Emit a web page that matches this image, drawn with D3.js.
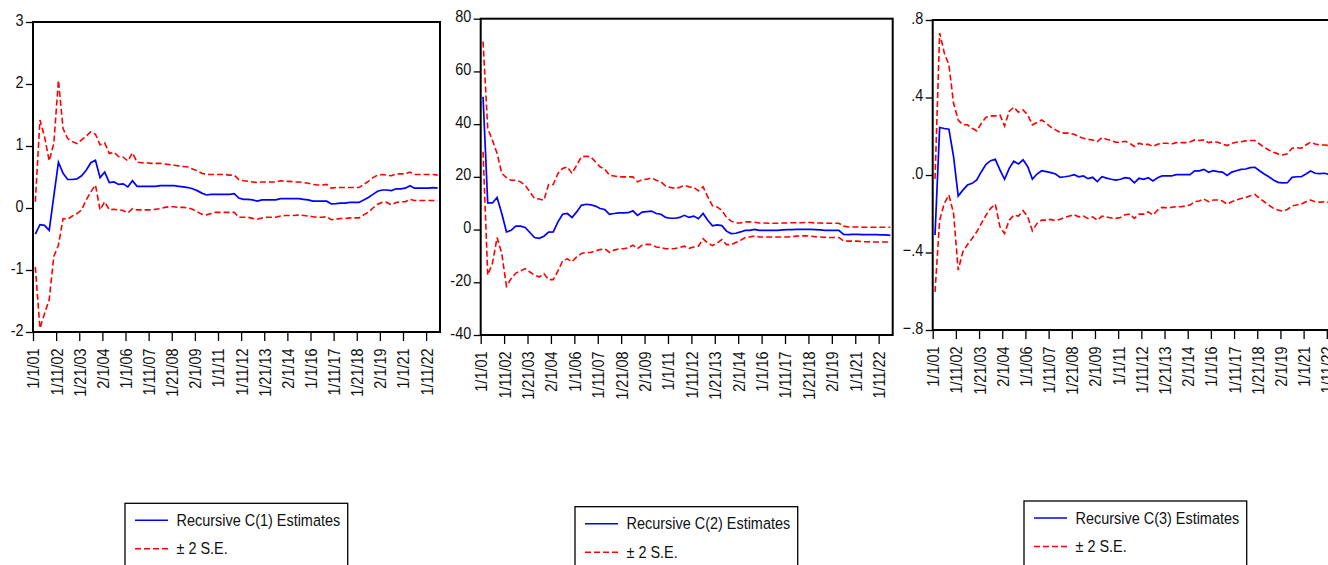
<!DOCTYPE html>
<html>
<head>
<meta charset="utf-8">
<script src="https://cdn.jsdelivr.net/npm/d3@7"></script>
<style>
  body { margin: 0; background: #fff; overflow: hidden; }
  svg { display: block; font-family: "Liberation Sans", Arial, sans-serif; }
</style>
</head>
<body>
<script>
var W = 1328, H = 565;

// tick labels on the date axis, one every 5 observations
var xLabels = ["1/1/01", "1/11/02", "1/21/03", "2/1/04", "1/1/06", "1/11/07", "1/21/08", "2/1/09", "1/1/11",
  "1/11/12", "1/21/13", "2/1/14", "1/1/16", "1/11/17", "1/21/18", "2/1/19", "1/1/21", "1/11/22"];
var nObs = 88;

var yTicks1 = [-2, -1, 0, 1, 2, 3];
var yTicks2 = [-40, -20, 0, 20, 40, 60, 80];
var yTicks3 = [-0.8, -0.4, 0, 0.4, 0.8];

// C(1)
var est1 = [-0.42, -0.27, -0.28, -0.36, 0.19, 0.74, 0.56, 0.46, 0.46, 0.47,
  0.52, 0.61, 0.73, 0.77, 0.49, 0.58, 0.41, 0.42, 0.38, 0.39,
  0.34, 0.44, 0.35, 0.35, 0.35, 0.35, 0.35, 0.36, 0.36, 0.36,
  0.36, 0.35, 0.34, 0.33, 0.31, 0.28, 0.24, 0.21, 0.22, 0.22,
  0.22, 0.22, 0.22, 0.23, 0.16, 0.14, 0.14, 0.13, 0.11, 0.13,
  0.13, 0.13, 0.13, 0.15, 0.15, 0.15, 0.15, 0.15, 0.14, 0.13,
  0.11, 0.11, 0.11, 0.11, 0.065, 0.07, 0.08, 0.08, 0.09, 0.09,
  0.09, 0.13, 0.17, 0.22, 0.27, 0.29, 0.29, 0.28, 0.31, 0.31,
  0.32, 0.36, 0.32, 0.32, 0.32, 0.32, 0.33, 0.32];
var up1 = [0.10, 1.42, 1.15, 0.76, 1.04, 2.06, 1.28, 1.12, 1.07, 1.04,
  1.10, 1.16, 1.23, 1.19, 1.02, 1.05, 0.88, 0.90, 0.83, 0.82,
  0.76, 0.89, 0.74, 0.73, 0.73, 0.72, 0.72, 0.72, 0.71, 0.70,
  0.69, 0.68, 0.67, 0.66, 0.63, 0.60, 0.56, 0.54, 0.54, 0.54,
  0.54, 0.54, 0.53, 0.53, 0.46, 0.44, 0.43, 0.42, 0.41, 0.42,
  0.42, 0.42, 0.42, 0.44, 0.43, 0.43, 0.42, 0.42, 0.41, 0.40,
  0.38, 0.37, 0.37, 0.38, 0.32, 0.33, 0.33, 0.33, 0.33, 0.33,
  0.33, 0.38, 0.43, 0.49, 0.53, 0.54, 0.53, 0.52, 0.55, 0.55,
  0.55, 0.58, 0.54, 0.54, 0.54, 0.54, 0.54, 0.53];
var lo1 = [-0.95, -1.94, -1.70, -1.48, -0.78, -0.60, -0.17, -0.18, -0.13, -0.09,
  -0.03, 0.13, 0.26, 0.37, -0.03, 0.10, -0.03, -0.02, -0.03, -0.04,
  -0.08, -0.01, -0.03, -0.03, -0.03, -0.03, -0.02, -0.01, 0.01, 0.02,
  0.02, 0.01, 0.01, 0.00, -0.02, -0.06, -0.10, -0.11, -0.09, -0.07,
  -0.07, -0.07, -0.07, -0.07, -0.15, -0.15, -0.15, -0.167, -0.18, -0.16,
  -0.15, -0.15, -0.15, -0.13, -0.12, -0.12, -0.12, -0.11, -0.12, -0.13,
  -0.14, -0.15, -0.15, -0.14, -0.19, -0.18, -0.17, -0.17, -0.16, -0.16,
  -0.16, -0.11, -0.07, 0.00, 0.06, 0.09, 0.09, 0.05, 0.09, 0.10,
  0.10, 0.14, 0.12, 0.12, 0.12, 0.12, 0.12, 0.12];

// C(2)
var est2 = [50.4, 10.1, 10.1, 12.2, 6.1, -0.9, -0.3, 1.3, 1.3, 0.8,
  -1.1, -3.0, -3.3, -2.5, -1.0, -0.9, 2.9, 5.8, 6.1, 4.6,
  6.7, 9.2, 9.6, 9.4, 8.9, 8.0, 7.6, 5.8, 6.1, 6.3,
  6.3, 6.4, 7.1, 5.4, 6.6, 6.8, 7.0, 6.1, 5.8, 4.6,
  4.3, 4.3, 4.6, 5.4, 4.6, 5.1, 4.1, 6.1, 3.5, 1.4,
  1.8, 1.5, -0.6, -1.5, -1.4, -0.9, -0.3, -0.3, 0.1, -0.3,
  -0.3, -0.3, -0.3, -0.3, -0.1, 0.0, 0.0, 0.1, 0.1, 0.1,
  0.1, 0.0, -0.1, -0.3, -0.3, -0.3, -0.3, -1.8, -1.9, -1.8,
  -1.8, -1.9, -1.9, -1.9, -1.9, -2.0, -2.0, -2.2];
var up2 = [71.3, 38.4, 33.9, 28.9, 21.3, 19.7, 18.7, 18.7, 18.1, 16.8,
  14.3, 11.8, 11.6, 11.1, 17.1, 17.1, 21.3, 23.2, 23.8, 21.3,
  24.4, 27.6, 27.8, 27.6, 25.7, 23.8, 22.9, 20.6, 20.3, 20.0,
  20.0, 20.0, 20.0, 18.1, 19.0, 19.1, 19.6, 18.7, 18.1, 16.5,
  16.0, 15.6, 16.0, 16.8, 16.2, 16.0, 14.7, 16.2, 12.4, 9.0,
  8.6, 7.3, 4.6, 3.2, 2.5, 2.5, 2.9, 2.9, 2.8, 2.5,
  2.5, 2.4, 2.4, 2.4, 2.5, 2.5, 2.6, 2.6, 2.6, 2.7,
  2.7, 2.5, 2.5, 2.4, 2.4, 2.4, 2.4, 1.3, 1.0, 1.0,
  1.0, 0.9, 0.9, 0.9, 0.9, 0.9, 0.9, 0.9];
var lo2 = [29.5, -17.3, -12.9, -3.0, -9.1, -21.5, -18.6, -16.5, -15.7, -14.8,
  -16.1, -17.3, -18.0, -16.7, -19.0, -19.0, -15.7, -11.9, -11.1, -12.2,
  -10.4, -9.1, -8.7, -8.7, -8.1, -7.6, -7.3, -8.6, -7.8, -7.3,
  -7.3, -6.9, -5.9, -7.2, -5.9, -5.6, -5.7, -6.6, -6.8, -7.3,
  -7.3, -7.2, -6.8, -6.3, -7.1, -6.6, -6.3, -3.5, -5.1, -6.1,
  -5.1, -3.8, -5.7, -5.7, -4.9, -4.1, -3.0, -2.8, -2.4, -2.8,
  -2.8, -2.8, -2.8, -2.8, -2.8, -2.8, -2.7, -2.5, -2.4, -2.4,
  -2.5, -2.7, -2.8, -2.9, -3.0, -3.0, -3.0, -4.3, -4.4, -4.4,
  -4.4, -4.6, -4.6, -4.7, -4.7, -4.7, -4.7, -4.7];

// C(3)
var est3 = [-0.31, 0.245, 0.24, 0.236, 0.095, -0.109, -0.078, -0.052, -0.043, -0.026,
  0.017, 0.055, 0.074, 0.081, 0.026, -0.022, 0.034, 0.071, 0.057, 0.078,
  0.043, -0.021, 0.005, 0.022, 0.017, 0.012, 0.005, -0.012, -0.009, -0.005,
  0.002, -0.009, -0.005, -0.019, -0.012, -0.034, -0.009, -0.016, -0.022, -0.026,
  -0.022, -0.014, -0.017, -0.04, -0.017, -0.022, -0.014, -0.031, -0.014, -0.005,
  -0.005, -0.005, 0.002, 0.002, 0.002, 0.002, 0.021, 0.021, 0.029, 0.014,
  0.022, 0.017, 0.015, -0.002, 0.015, 0.022, 0.029, 0.031, 0.038, 0.04,
  0.022, 0.005, -0.009, -0.026, -0.038, -0.041, -0.04, -0.012, -0.009, -0.009,
  0.005, 0.021, 0.009, 0.007, 0.009, 0.003, 0.002, 0.003];
var up3 = [-0.02, 0.733, 0.63, 0.569, 0.37, 0.284, 0.259, 0.259, 0.241, 0.228,
  0.267, 0.298, 0.305, 0.305, 0.31, 0.253, 0.328, 0.35, 0.324, 0.336,
  0.31, 0.259, 0.271, 0.284, 0.267, 0.247, 0.233, 0.219, 0.216, 0.216,
  0.21, 0.198, 0.19, 0.184, 0.181, 0.172, 0.193, 0.184, 0.178, 0.169,
  0.169, 0.174, 0.164, 0.147, 0.164, 0.157, 0.159, 0.147, 0.159, 0.164,
  0.164, 0.16, 0.167, 0.167, 0.167, 0.171, 0.181, 0.178, 0.181, 0.167,
  0.172, 0.169, 0.16, 0.152, 0.164, 0.169, 0.172, 0.176, 0.178, 0.178,
  0.16, 0.143, 0.129, 0.117, 0.109, 0.103, 0.109, 0.138, 0.141, 0.138,
  0.155, 0.169, 0.16, 0.155, 0.155, 0.152, 0.152, 0.152];
var lo3 = [-0.603, -0.233, -0.147, -0.103, -0.198, -0.491, -0.397, -0.359, -0.328, -0.293,
  -0.25, -0.207, -0.172, -0.15, -0.267, -0.302, -0.233, -0.207, -0.212, -0.184,
  -0.216, -0.288, -0.25, -0.233, -0.233, -0.229, -0.236, -0.228, -0.219, -0.212,
  -0.205, -0.216, -0.212, -0.224, -0.216, -0.233, -0.212, -0.217, -0.222, -0.224,
  -0.219, -0.205, -0.202, -0.224, -0.202, -0.202, -0.19, -0.207, -0.181, -0.167,
  -0.169, -0.167, -0.164, -0.164, -0.16, -0.155, -0.138, -0.134, -0.124, -0.138,
  -0.129, -0.129, -0.134, -0.15, -0.138, -0.129, -0.121, -0.116, -0.107, -0.1,
  -0.121, -0.138, -0.155, -0.172, -0.181, -0.186, -0.178, -0.159, -0.155, -0.15,
  -0.138, -0.129, -0.138, -0.14, -0.138, -0.141, -0.141, -0.141];

var fmtInt = function(v) { return String(v); };
var fmtDec = function(v) { return d3.format(".1f")(v).replace("0.", "."); };

var panels = [
  { est: est1, up: up1, lo: lo1, ticks: yTicks1, fmt: fmtInt, dom: [-2, 3],
    left: 33, right: 440, top: 22, bottom: 332, name: "Recursive C(1) Estimates", lx: 125, ly: 503.3 },
  { est: est2, up: up2, lo: lo2, ticks: yTicks2, fmt: fmtInt, dom: [-40, 80],
    left: 480.7, right: 892.7, top: 18.7, bottom: 335, name: "Recursive C(2) Estimates", lx: 575, ly: 506.7 },
  { est: est3, up: up3, lo: lo3, ticks: yTicks3, fmt: fmtDec, dom: [-0.8, 0.8],
    left: 932.7, right: 1340.7, top: 20, bottom: 330, name: "Recursive C(3) Estimates", lx: 1024, ly: 501 }
];

var svg = d3.select("body").append("svg")
  .attr("width", W)
  .attr("height", H);

svg.append("rect").attr("width", W).attr("height", H).attr("fill", "#fff");

var textScale = "scale(0.85,1)";

panels.forEach(function(p) {
  var x = d3.scaleLinear().domain([0, nObs]).range([p.left, p.right]);
  var y = d3.scaleLinear().domain(p.dom).range([p.bottom, p.top]);

  // y axis, outside ticks on the left
  var gy = svg.append("g")
    .attr("transform", "translate(" + p.left + ",0)")
    .call(d3.axisLeft(y).tickValues(p.ticks).tickFormat(p.fmt).tickSize(7).tickSizeOuter(0));
  gy.select(".domain").remove();
  gy.selectAll("line").attr("stroke", "#000").attr("stroke-width", 1.3);
  gy.selectAll("text")
    .attr("x", null).attr("dy", null)
    .attr("transform", "translate(-9.5,3) " + textScale)
    .attr("font-size", 17)
    .attr("font-family", "Liberation Sans, Arial, sans-serif")
    .attr("fill", "#111")
    .style("text-anchor", "end");

  // x axis, ticks every 5 observations, vertical labels
  var gx = svg.append("g")
    .attr("transform", "translate(0," + p.bottom + ")")
    .call(d3.axisBottom(x)
      .tickValues(xLabels.map(function(d, i) { return i * 5; }))
      .tickFormat(function(d) { return xLabels[d / 5]; })
      .tickSize(9).tickSizeOuter(0));
  gx.select(".domain").remove();
  gx.selectAll("line").attr("stroke", "#000").attr("stroke-width", 1.3);
  gx.selectAll("text")
    .attr("y", 0).attr("x", 0).attr("dy", "0.35em")
    .attr("transform", "translate(0,16.5) rotate(-90) " + textScale)
    .attr("font-size", 17)
    .attr("font-family", "Liberation Sans, Arial, sans-serif")
    .attr("fill", "#111")
    .style("text-anchor", "end");

  var line = d3.line()
    .x(function(d, i) { return x(i + 0.5); })
    .y(function(d) { return y(d); });

  [p.up, p.lo].forEach(function(s) {
    svg.append("path")
      .attr("d", line(s))
      .attr("fill", "none")
      .attr("stroke", "#ff0000")
      .attr("stroke-width", 1.6)
      .attr("stroke-dasharray", "6,3");
  });

  svg.append("path")
    .attr("d", line(p.est))
    .attr("fill", "none")
    .attr("stroke", "#0000ff")
    .attr("stroke-width", 1.7);

  // frame
  svg.append("rect")
    .attr("x", p.left).attr("y", p.top)
    .attr("width", p.right - p.left).attr("height", p.bottom - p.top)
    .attr("fill", "none")
    .attr("stroke", "#000")
    .attr("stroke-width", 2);

  // legend
  var lg = svg.append("g").attr("transform", "translate(" + p.lx + "," + p.ly + ")");
  lg.append("rect")
    .attr("width", 222.7).attr("height", 90)
    .attr("fill", "#fff").attr("stroke", "#000").attr("stroke-width", 1.3);
  lg.append("line").attr("x1", 10).attr("x2", 43).attr("y1", 17).attr("y2", 17)
    .attr("stroke", "#0000ff").attr("stroke-width", 1.6);
  lg.append("line").attr("x1", 10).attr("x2", 43).attr("y1", 45.5).attr("y2", 45.5)
    .attr("stroke", "#ff0000").attr("stroke-width", 1.6).attr("stroke-dasharray", "6,3");
  lg.append("text")
    .attr("transform", "translate(51.5,22.5) " + textScale)
    .attr("font-size", 17).attr("fill", "#111")
    .text(p.name);
  lg.append("text")
    .attr("transform", "translate(51.5,51) " + textScale)
    .attr("font-size", 17).attr("fill", "#111")
    .text("\u00b1 2 S.E.");
});
</script>
</body>
</html>
